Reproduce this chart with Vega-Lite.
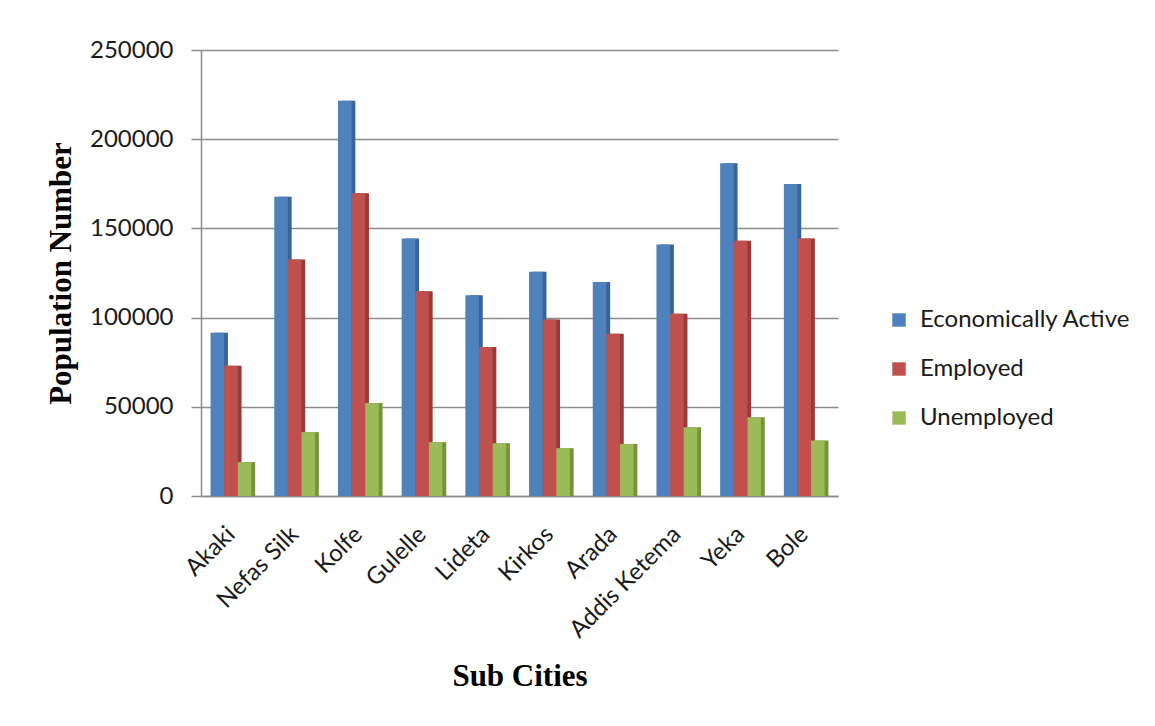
{
  "$schema": "https://vega.github.io/schema/vega-lite/v6.json",
  "width": 637,
  "height": 446,
  "autosize": {"type": "none"},
  "padding": {"left": 201, "top": 50, "right": 317, "bottom": 230},
  "background": "white",
  "data": {
    "values": [
      {"city": "Akaki", "series": "Economically Active", "value": 91500},
      {"city": "Akaki", "series": "Employed", "value": 73000},
      {"city": "Akaki", "series": "Unemployed", "value": 19000},
      {"city": "Nefas Silk", "series": "Economically Active", "value": 167800},
      {"city": "Nefas Silk", "series": "Employed", "value": 132600},
      {"city": "Nefas Silk", "series": "Unemployed", "value": 35800},
      {"city": "Kolfe", "series": "Economically Active", "value": 221500},
      {"city": "Kolfe", "series": "Employed", "value": 169700},
      {"city": "Kolfe", "series": "Unemployed", "value": 52200},
      {"city": "Gulelle", "series": "Economically Active", "value": 144400},
      {"city": "Gulelle", "series": "Employed", "value": 114800},
      {"city": "Gulelle", "series": "Unemployed", "value": 30200},
      {"city": "Lideta", "series": "Economically Active", "value": 112500},
      {"city": "Lideta", "series": "Employed", "value": 83500},
      {"city": "Lideta", "series": "Unemployed", "value": 29600},
      {"city": "Kirkos", "series": "Economically Active", "value": 125700},
      {"city": "Kirkos", "series": "Employed", "value": 99000},
      {"city": "Kirkos", "series": "Unemployed", "value": 26800},
      {"city": "Arada", "series": "Economically Active", "value": 120000},
      {"city": "Arada", "series": "Employed", "value": 91000},
      {"city": "Arada", "series": "Unemployed", "value": 29200},
      {"city": "Addis Ketema", "series": "Economically Active", "value": 141000},
      {"city": "Addis Ketema", "series": "Employed", "value": 102200},
      {"city": "Addis Ketema", "series": "Unemployed", "value": 38600},
      {"city": "Yeka", "series": "Economically Active", "value": 186500},
      {"city": "Yeka", "series": "Employed", "value": 143100},
      {"city": "Yeka", "series": "Unemployed", "value": 44200},
      {"city": "Bole", "series": "Economically Active", "value": 174900},
      {"city": "Bole", "series": "Employed", "value": 144400},
      {"city": "Bole", "series": "Unemployed", "value": 31100}
    ]
  },
  "encoding": {
    "x": {
      "field": "city",
      "type": "nominal",
      "sort": ["Akaki", "Nefas Silk", "Kolfe", "Gulelle", "Lideta", "Kirkos", "Arada", "Addis Ketema", "Yeka", "Bole"],
      "scale": {"paddingInner": 0.3, "paddingOuter": 0.15},
      "title": "Sub Cities",
      "axis": {
        "labelAngle": -45,
        "labelFont": "Lato",
        "labelFontSize": 24,
        "labelColor": "#1a1a1a",
        "labelPadding": 26,
        "labelOffset": -10,
        "ticks": false,
        "domainColor": "#8c8c8c",
        "domainWidth": 1.5,
        "titleFont": "Liberation Serif",
        "titleFontSize": 31,
        "titleFontWeight": "bold",
        "titleColor": "#000000",
        "titlePadding": 20
      }
    },
    "y": {
      "field": "value",
      "type": "quantitative",
      "scale": {"domain": [0, 250000]},
      "title": "Population Number",
      "axis": {
        "values": [0, 50000, 100000, 150000, 200000, 250000],
        "format": "d",
        "labelFont": "Lato",
        "labelFontSize": 24,
        "labelColor": "#1a1a1a",
        "labelPadding": 18,
        "tickSize": 10,
        "tickColor": "#8c8c8c",
        "tickWidth": 1.5,
        "domainColor": "#8c8c8c",
        "domainWidth": 1.5,
        "gridColor": "#8c8c8c",
        "gridWidth": 1.5,
        "titleFont": "Liberation Serif",
        "titleFontSize": 31,
        "titleFontWeight": "bold",
        "titleColor": "#000000",
        "titlePadding": 12
      }
    }
  },
  "layer": [
    {
      "mark": {"type": "bar"},
      "encoding": {
        "xOffset": {
          "field": "series",
          "sort": ["Economically Active", "Employed", "Unemployed"],
          "scale": {"paddingInner": 0, "paddingOuter": 0.14, "align": 1}
        },
        "color": {
          "field": "series",
          "type": "nominal",
          "scale": {
            "domain": ["Economically Active", "Employed", "Unemployed"],
            "range": ["#3a6496", "#943c39", "#77923f"]
          },
          "legend": null
        }
      }
    },
    {
      "mark": {"type": "bar"},
      "encoding": {
        "xOffset": {
          "field": "series",
          "sort": ["Economically Active", "Employed", "Unemployed"],
          "scale": {"paddingInner": 0, "paddingOuter": 0.14, "align": 0}
        },
        "color": {
          "field": "series",
          "type": "nominal",
          "sort": ["Economically Active", "Employed", "Unemployed"],
          "scale": {
            "domain": ["Economically Active", "Employed", "Unemployed"],
            "range": ["#4f81bd", "#c0504d", "#9bbb59"]
          },
          "legend": {
            "title": null,
            "orient": "none",
            "legendX": 686,
            "legendY": 258,
            "symbolType": "square",
            "symbolSize": 180,
            "symbolStrokeWidth": 0,
            "labelFont": "Lato",
            "labelFontSize": 24,
            "labelColor": "#1a1a1a",
            "labelOffset": 9,
            "labelLimit": 400,
            "rowPadding": 25
          }
        }
      }
    }
  ],
  "resolve": {"scale": {"xOffset": "independent", "color": "independent"}},
  "config": {"view": {"stroke": null}}
}
